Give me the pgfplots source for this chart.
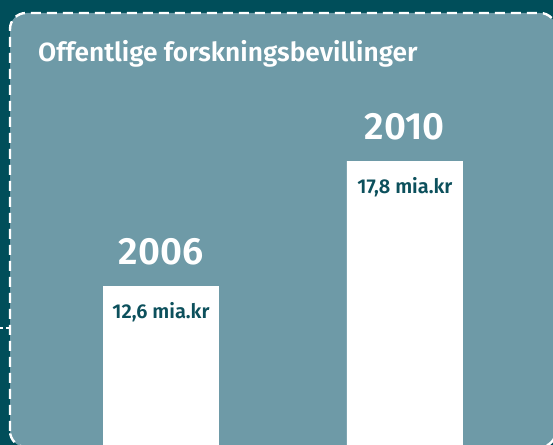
\documentclass[border=0pt]{standalone}
\usepackage{pgfplots}
\pgfplotsset{compat=1.18}
\usepackage{fontspec}
\IfFontExistsTF{Fira Sans SemiBold}{%
  \newfontfamily\medfont{Fira Sans SemiBold}%
}{%
  \newfontfamily\medfontbase{Fira Sans}%
  \newcommand\medfont{\medfontbase\bfseries}%
}
\definecolor{bgdark}{HTML}{004E5A}
\definecolor{panel}{HTML}{6E9AA7}
\definecolor{txtdark}{HTML}{0C505C}
\begin{document}
\begin{tikzpicture}
\clip (0,0) rectangle (553bp,445bp);
\fill[bgdark] (0,0) rectangle (553bp,445bp);
\draw[white, fill=panel, line width=2.4bp, dash pattern=on 10bp off 6bp, rounded corners=16bp]
  (10bp,-2bp) rectangle (556bp,432bp);
\draw[white, line width=1.5bp, dash pattern=on 3bp off 3bp] (0,117bp) -- (10bp,117bp);
\node[anchor=base west, inner sep=0pt, text=white, font=\medfont\fontsize{26.3bp}{31bp}\selectfont]
  at (38bp,383bp) {Offentlige forskningsbevillinger};
\begin{axis}[
  at={(0,0)}, anchor=south west,
  width=553bp, height=445bp, scale only axis,
  xmin=-0.66, xmax=1.607, ymin=6, ymax=24.5,
  axis lines=none,
  clip=true,
]
\addplot[ybar, bar width=0.4754, fill=white, draw=none] coordinates {(0,12.6) (1,17.8)};
\addplot[only marks, mark=none, point meta=explicit symbolic,
  nodes near coords={\pgfplotspointmeta},
  every node near coord/.append style={anchor=base, yshift=22bp, inner sep=0pt,
    text=white, font=\medfont\fontsize{38bp}{44bp}\selectfont}]
  coordinates {(0,12.6) [2006] (1,17.8) [2010]};
\addplot[only marks, mark=none, point meta=explicit symbolic,
  nodes near coords={\pgfplotspointmeta},
  every node near coord/.append style={anchor=base, yshift=-32.5bp, inner sep=0pt,
    text=txtdark, font=\medfont\fontsize{20bp}{24bp}\selectfont}]
  coordinates {(0,12.6) [{12,6 mia.kr}] (1,17.8) [{17,8 mia.kr}]};
\end{axis}
\end{tikzpicture}
\end{document}
